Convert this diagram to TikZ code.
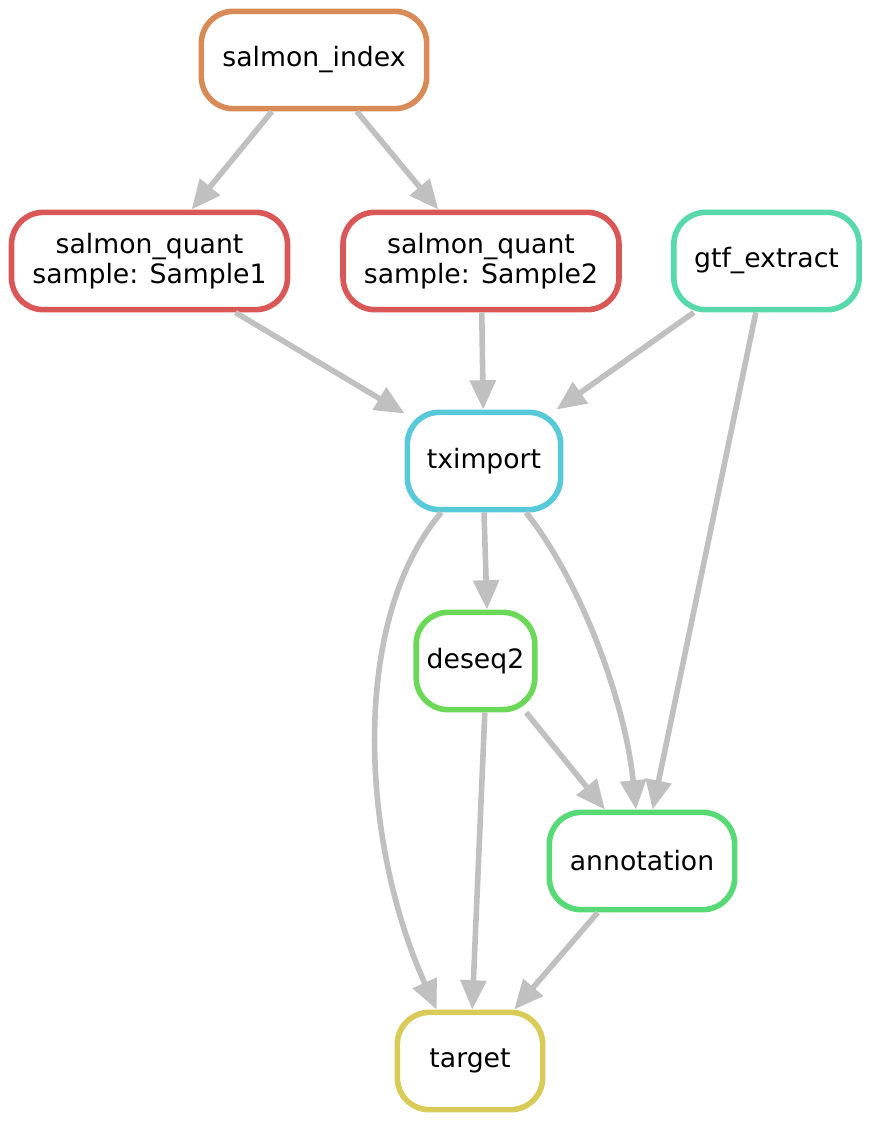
\documentclass[tikz,border=0pt]{standalone}
\usepackage{fontspec}
\setmainfont{DejaVu Sans}
\usetikzlibrary{arrows.meta}
\definecolor{indexcol}{HTML}{D98B57}
\definecolor{quantcol}{HTML}{D95757}
\definecolor{gtfcol}{HTML}{57D9AB}
\definecolor{tximcol}{HTML}{57C9D9}
\definecolor{deseqcol}{HTML}{6BD957}
\definecolor{annotcol}{HTML}{57D975}
\definecolor{targetcol}{HTML}{D9CB57}
\definecolor{edgegray}{HTML}{C0C0C0}
\tikzset{
  rule/.style={draw=#1, line width=4.2pt, rounded corners=24pt, fill=white,
    minimum height=73pt, inner sep=0pt, align=center,
    font=\fontsize{20}{22.5}\selectfont},
  dep/.style={draw=edgegray, line width=4.2pt, -{Triangle[length=22pt,width=19pt]}}
}
\begin{document}
\begin{tikzpicture}[x=0.75pt,y=-0.75pt]
\useasboundingbox (0,0) rectangle (873,1123);
\node[rule=indexcol,minimum width=169pt] (index) at (314,60) {salmon\_index};
\node[rule=quantcol,minimum width=207pt] (quant1) at (149.5,261) {salmon\_quant\\sample: Sample1};
\node[rule=quantcol,minimum width=207pt] (quant2) at (481,261) {salmon\_quant\\sample: Sample2};
\node[rule=gtfcol,minimum width=139pt] (gtf) at (766.5,261) {gtf\_extract};
\node[rule=tximcol,minimum width=115pt] (txim) at (484,461) {tximport};
\node[rule=deseqcol,minimum width=89pt] (deseq) at (475.5,661) {deseq2};
\node[rule=annotcol,minimum width=139pt] (annot) at (642,861) {annotation};
\node[rule=targetcol,minimum width=109pt] (target) at (470,1061) {target};
\draw[dep] (index) -- (quant1);
\draw[dep] (index) -- (quant2);
\draw[dep] (quant1) -- (txim);
\draw[dep] (quant2) -- (txim);
\draw[dep] (gtf) -- (txim);
\draw[dep] (gtf) -- (annot);
\draw[dep] (txim.south) -- ([xshift=8.6pt]deseq.north);
\draw[dep] ([xshift=-32pt]txim.south) .. controls (350,620) and (360,840) .. ([xshift=-25pt]target.north);
\draw[dep] ([xshift=31.5pt]txim.south) .. controls (580,580) and (625,700) .. ([xshift=-4.5pt]annot.north);
\draw[dep] ([xshift=38pt]deseq.south) -- ([xshift=-27.75pt]annot.north);
\draw[dep] ([xshift=7pt]deseq.south) -- (target);
\draw[dep] (annot) -- (target);
\end{tikzpicture}
\end{document}
